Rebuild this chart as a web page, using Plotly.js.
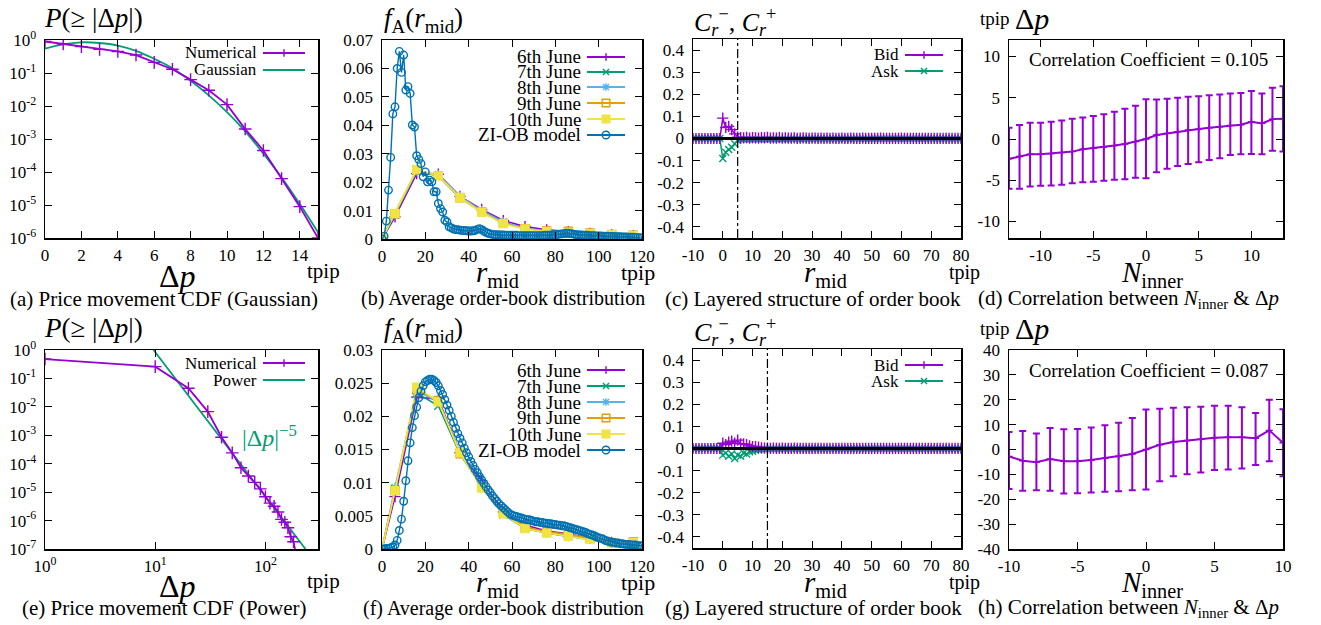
<!DOCTYPE html>
<html><head><meta charset="utf-8">
<script src="https://cdn.plot.ly/plotly-3.0.1.min.js"></script>
<style>html,body{margin:0;padding:0;background:#fff;}#chart{width:1321px;height:625px;}</style>
</head><body><div id="chart"></div>
<script>
// ================= DATA =================
// (a) price movement CDF vs Gaussian
const gaussDp = [0,1,2,3,4,5,6,7,8,9,10,11,12,13,14,15];
const gaussNumerical = [0.9,0.76,0.63,0.52,0.45,0.35,0.21,0.13,0.063,0.03,0.011,0.002,4.5e-4,6.3e-5,8.9e-6,1.0e-6];
const gaussFit = [0.55,0.74,0.85,0.81,0.68,0.47,0.27,0.14,0.058,0.021,0.0065,0.0017,3.6e-4,6.8e-5,1.07e-5,1.5e-6];
// (e) price movement CDF vs power law
const powDp = [1,10,20,30,40,50,60,70,80,90,100,110,120,130,140,150,160,170,180,190];
const powNumerical = [0.48,0.26,0.045,0.0068,8.5e-4,2.4e-4,7.2e-5,3.7e-5,2.2e-5,1.3e-5,6.9e-6,4.1e-6,3.2e-6,2.0e-6,1.1e-6,8.7e-7,5.6e-7,2.7e-7,1.8e-7,6e-8];
const powLawDp = [9.66,50,231];
const powLawP = [1.0,2.4e-4,1.0e-7];
// (b),(f) average order-book distribution
const dayNames = ['6th June','7th June','8th June','9th June','10th June'];
const obR = [0,6,16,26,36,46,56,66,76,86,96,106,116];
const obTop = [
  [0,0.0078,0.0230,0.0228,0.0150,0.0104,0.0065,0.0044,0.0032,0.0026,0.0020,0.0015,0.0012],
  [0,0.0085,0.0238,0.0222,0.0145,0.0097,0.0057,0.0037,0.0027,0.0023,0.0018,0.0014,0.0011],
  [0,0.0088,0.0240,0.0226,0.0150,0.0100,0.0060,0.0038,0.0028,0.0024,0.0019,0.0014,0.0011],
  [0,0.0089,0.0243,0.0223,0.0145,0.0095,0.0055,0.0036,0.0028,0.0027,0.0021,0.0016,0.0013],
  [0,0.0090,0.0244,0.0222,0.0146,0.0094,0.0054,0.0035,0.0026,0.0023,0.0019,0.0015,0.0012]
];
const obBottom = [
  [0,0.0079,0.0229,0.0226,0.0145,0.0103,0.0056,0.0036,0.0027,0.0023,0.0016,0.0010,0.0008],
  [0,0.0090,0.0235,0.0216,0.0143,0.0095,0.0052,0.0031,0.0024,0.0019,0.0015,0.0009,0.0008],
  [0,0.0093,0.0238,0.0222,0.0146,0.0097,0.0054,0.0032,0.0024,0.0019,0.0015,0.0009,0.0008],
  [0,0.0088,0.0240,0.0224,0.0144,0.0093,0.0055,0.0033,0.0026,0.0022,0.0016,0.0010,0.0011],
  [0,0.0088,0.0244,0.0222,0.0145,0.0092,0.0053,0.0031,0.0024,0.0019,0.0015,0.0009,0.0010]
];
const ziR = [0,1,2,3,4,5,6,7,8,9,10,11,12,13,14,15,16,17,18,19,20,21,22,23,24,25,26,27,28,29,30,31,32,33,34,35,36,37,38,39,40,41,42,43,44,45,46,47,48,49,50,51,52,53,54,55,56,57,58,59,60,61,62,63,64,65,66,67,68,69,70,71,72,73,74,75,76,77,78,79,80,81,82,83,84,85,86,87,88,89,90,91,92,93,94,95,96,97,98,99,100,101,102,103,104,105,106,107,108,109,110,111,112,113,114,115,116,117,118,119,120];
const ziTop = [0,0.001,0.0063,0.0172,0.0287,0.044,0.0465,0.060,0.066,0.0586,
  0.0647,0.0524,0.0536,0.0512,0.0401,0.0394,0.0293,0.028,0.0265,0.0219,
  0.0236,0.0201,0.0207,0.0201,0.0166,0.0166,0.0125,0.0107,0.0095,0.0066,
  0.006,0.0043,0.0039,0.0035,0.0033,0.0033,0.0031,0.003,0.003,0.0029,
  0.0028,0.0028,0.0029,0.003,0.0034,0.0036,0.0033,0.0028,0.0023,0.002,
  0.0018,0.0016,0.0015,0.0015,0.0014,0.0014,0.0014,0.0013,0.0013,0.0013,
  0.0013,0.0013,0.0013,0.0012,0.0012,0.0012,0.0012,0.0012,0.0012,0.0012,
  0.0012,0.0012,0.0012,0.0012,0.0012,0.0013,0.0013,0.0013,0.0014,0.0014,
  0.0015,0.0016,0.0017,0.0018,0.0019,0.002,0.002,0.0019,0.0018,0.0016,
  0.0015,0.0014,0.0014,0.0013,0.0013,0.0013,0.0012,0.0012,0.0012,0.0011,
  0.0011,0.0011,0.001,0.001,0.001,0.0009,0.0009,0.0009,0.0008,0.0008,
  0.0008,0.0007,0.0007,0.0007,0.0006,0.0006,0.0006,0.0005,0.0005,0.0005,
  0.0004];
const ziBottom = [0,0,0.0001,0.0001,0.0002,0.0003,0.0006,0.0013,0.0028,0.0045,
  0.0072,0.0103,0.0133,0.016,0.0183,0.0201,0.0214,0.0228,0.0238,0.0246,
  0.0252,0.0254,0.0256,0.0256,0.0254,0.0251,0.0246,0.0239,0.0233,0.0225,
  0.0217,0.0209,0.02,0.0191,0.0182,0.0174,0.0167,0.016,0.0152,0.0145,
  0.0139,0.0132,0.0126,0.012,0.0115,0.0109,0.0104,0.0099,0.0094,0.0089,
  0.0085,0.008,0.0076,0.0072,0.0068,0.0065,0.0062,0.0059,0.0056,0.0053,
  0.0051,0.005,0.0049,0.0048,0.0047,0.0046,0.0045,0.0044,0.0044,0.0043,
  0.0042,0.0041,0.0041,0.004,0.004,0.0039,0.0039,0.0038,0.0038,0.0037,
  0.0037,0.0036,0.0036,0.0035,0.0035,0.0034,0.0033,0.0032,0.0031,0.003,
  0.0029,0.0028,0.0027,0.0026,0.0025,0.0023,0.0022,0.0021,0.002,0.0018,
  0.0017,0.0016,0.0015,0.0013,0.0012,0.0011,0.001,0.001,0.0009,0.0009,
  0.0008,0.0008,0.0007,0.0007,0.0007,0.0006,0.0006,0.0006,0.0005,0.0005,
  0.0005];
// (c),(g) layered structure of order book
const layerR = [-10,-9,-8,-7,-6,-5,-4,-3,-2,-1,0,1,2,3,4,5,6,7,8,9,10,11,12,13,14,15,16,17,18,19,20,21,22,23,24,25,26,27,28,29,30,31,32,33,34,35,36,37,38,39,40,41,42,43,44,45,46,47,48,49,50,51,52,53,54,55,56,57,58,59,60,61,62,63,64,65,66,67,68,69,70,71,72,73,74,75,76,77,78,79,80];
const bidTop = [0,0,0,0,0,0,0,0,0,0,
  0.092,0.050,0.055,0.040,0.021,0.006,
  0.004,0.003,0.005,0.002,0.004,0.003,0.002,0.004,0.003,0.005,0.002,0.003,0.002,0.004,0.002,
  0.003,0.002,0.002,0.003,0.001,0.002,0.003,0.002,0.001,0.002,0.002,0.001,0.002,0.001,0.002,
  0.001,0.002,0.001,0.001,0.002,0.001,0.001,0.002,0.001,0.001,0.001,0.002,0.001,0.001,0.001,
  0.001,0.001,0.002,0.001,0.001,0.001,0.001,0.001,0.001,0.002,0.001,0.001,0.001,0.001,0.001,
  0.001,0.001,0.001,0.001,0.001,0.001,0.001,0.001,0.001,0.001,0.001,0.001,0.001,0.001,0.001];
const askTop = [0,0,0,0,0,0,0,0,0,0,
  -0.090,-0.062,-0.050,-0.040,-0.024,-0.009,
  -0.003,-0.004,-0.002,-0.005,-0.003,-0.002,-0.004,-0.003,-0.002,-0.004,-0.003,-0.002,-0.003,-0.002,-0.003,
  -0.002,-0.003,-0.002,-0.001,-0.002,-0.002,-0.003,-0.001,-0.002,-0.002,-0.001,-0.002,-0.001,-0.002,-0.001,
  -0.002,-0.001,-0.001,-0.002,-0.001,-0.001,-0.001,-0.002,-0.001,-0.001,-0.001,-0.001,-0.002,-0.001,-0.001,
  -0.001,-0.001,-0.001,-0.001,-0.001,-0.001,-0.001,-0.001,-0.001,-0.001,-0.001,-0.001,-0.001,-0.001,-0.001,
  -0.001,-0.001,-0.001,-0.001,-0.001,-0.001,-0.001,-0.001,-0.001,-0.001,-0.001,-0.001,-0.001,-0.001,-0.001];
const bidBottom = [0,0,0,0,0,0,0,0,0,0,
  0.024,0.018,0.029,0.033,0.024,0.038,0.021,0.021,0.018,0.012,0.009,0.009,0.006,0.003,0.002,
  0.002,0.001,0.002,0.001,0.001,0.002,0.001,0.001,0.001,0.002,0.001,0.001,0.001,0.001,0.001,
  0.001,0.001,0.001,0.001,0.001,0.001,0.001,0.001,0.001,0.001,0.001,0.001,0.001,0.001,0.001,0.001,0.001,
  0.001,0.001,0.001,0.001,0.001,0.001,0.001,0.001,0.001,0.001,0.001,0.001,0.001,0.001,0.001,0.001,0.001,
  0.001,0.001,0.001,0.001,0.001,0.001,0.001,0.001,0.001,0.001,0.001,0.001,0.001,0.001,0.001,0.001,0.001];
const askBottom = [0,0,0,0,0,0,0,0,0,0,
  -0.030,-0.020,-0.035,-0.025,-0.045,-0.030,-0.035,-0.020,-0.025,-0.015,-0.012,-0.008,-0.006,-0.004,-0.002,
  -0.002,-0.001,-0.002,-0.001,-0.002,-0.001,-0.001,-0.002,-0.001,-0.001,-0.001,-0.002,-0.001,-0.001,-0.001,
  -0.001,-0.001,-0.001,-0.001,-0.001,-0.001,-0.001,-0.001,-0.001,-0.001,-0.001,-0.001,-0.001,-0.001,-0.001,-0.001,-0.001,
  -0.001,-0.001,-0.001,-0.001,-0.001,-0.001,-0.001,-0.001,-0.001,-0.001,-0.001,-0.001,-0.001,-0.001,-0.001,-0.001,-0.001,
  -0.001,-0.001,-0.001,-0.001,-0.001,-0.001,-0.001,-0.001,-0.001,-0.001,-0.001,-0.001,-0.001,-0.001,-0.001,-0.001,-0.001];
const layerEdgeTop = 5;
const layerEdgeBottom = 15;
// (d),(h) correlation between N_inner and price change
const nInnerTop = [-13,-12,-11,-10,-9,-8,-7,-6,-5,-4,-3,-2,-1,0,1,2,3,4,5,6,7,8,9,10,11,12,13];
const dpMeanTop = [-2.41,-2.13,-1.85,-1.85,-1.77,-1.65,-1.53,-1.25,-1.13,-0.97,-0.80,-0.60,-0.32,0.0,0.48,0.68,0.89,1.09,1.20,1.37,1.49,1.65,1.73,2.10,1.89,2.41,2.45];
const dpUpperTop = [1.37,1.70,1.97,1.97,2.10,2.25,2.45,2.60,2.80,3.00,3.30,3.66,4.02,4.83,4.79,4.87,4.99,5.11,5.19,5.31,5.39,5.51,5.59,5.83,5.51,6.20,6.40];
const dpLowerTop = [-6.04,-6.04,-5.75,-5.67,-5.63,-5.55,-5.35,-5.23,-5.19,-5.07,-4.95,-4.87,-4.70,-4.75,-4.02,-3.62,-3.26,-3.02,-2.82,-2.54,-2.33,-1.93,-1.85,-1.81,-1.85,-1.41,-1.53];
const nInnerBottom = [-10,-9,-8,-7,-6,-5,-4,-3,-2,-1,0,1,2,3,4,5,6,7,8,9,10];
const dpMeanBottom = [-2.8,-4.5,-5.1,-3.8,-4.7,-4.7,-4.2,-3.5,-2.8,-1.8,0,1.9,3.0,3.6,4.1,4.7,4.9,4.9,4.5,7.7,2.7];
const dpUpperBottom = [7.0,7.4,6.4,8.6,8.1,8.2,8.8,9.7,10.8,12.7,16.1,16.4,16.8,17.0,17.2,17.6,17.6,17.0,14.7,20.0,16.2];
const dpLowerBottom = [-15.9,-16.6,-16.4,-16.6,-17.7,-17.6,-17.3,-17.0,-16.8,-16.4,-16.1,-12.8,-10.8,-9.9,-9.2,-8.2,-8.0,-7.6,-6.2,-4.7,-10.8];
const corrTop = '0.105';
const corrBottom = '0.087';

// ================= STYLE / LAYOUT =================
const W = 1321, H = 625;
const serif = 'Liberation Serif, DejaVu Serif, serif';
const C = {purple:'#9400D3', green:'#009E73', lblue:'#56B4E9', orange:'#E69F00', yellow:'#F0E442', blue:'#0072B2'};
const dayColors = [C.purple, C.green, C.lblue, C.orange, C.yellow];
const daySymbols = ['cross-thin','x-thin','asterisk','square-open','square'];
const fx = p => p / W, fy = p => 1 - p / H;

const boxes = [
  [45,318,40,238],[382,642,40,239],[693,961,39,238],[1009,1283,40,238],
  [45,318,350,549],[382,642,350,549],[693,961,349,548],[1009,1283,350,549]
];
const layout = {
  width: W, height: H, autosize: false,
  margin: {l:0, r:0, t:0, b:0},
  paper_bgcolor: '#fff', plot_bgcolor: '#fff',
  showlegend: false,
  font: {family: serif, size: 17, color: '#000'},
  annotations: [], shapes: []
};
function common() {
  return {showline:true, linecolor:'#000', linewidth:1.5, mirror:'allticks', ticks:'inside',
    ticklen:7, tickwidth:1, tickcolor:'#000', showgrid:false, zeroline:false,
    tickfont:{family:serif, size:17, color:'#000'}, tickmode:'array', fixedrange:true};
}
function setAxes(i, xo, yo) {
  const b = boxes[i-1];
  const s = i === 1 ? '' : String(i);
  layout['xaxis'+s] = Object.assign(common(), {domain:[fx(b[0]), fx(b[1])], anchor:'y'+s, ticklabelstandoff:1}, xo);
  layout['yaxis'+s] = Object.assign(common(), {domain:[fy(b[3]), fy(b[2])], anchor:'x'+s, ticklabelstandoff:4}, yo);
}
const pow10 = (lo, hi) => { const v=[], t=[]; for (let e=lo; e<=hi; e++) { v.push(Math.pow(10,e)); t.push('10<sup>'+e+'</sup>'); } return {tickvals:v, ticktext:t}; };
const lin = (vals, txt) => ({tickvals: vals, ticktext: txt || vals.map(String)});

setAxes(1, Object.assign({range:[0,15]}, lin([0,2,4,6,8,10,12,14])), Object.assign({type:'log', range:[-6,0]}, pow10(-6,0)));
setAxes(2, Object.assign({range:[0,120]}, lin([0,20,40,60,80,100,120])), Object.assign({range:[0,0.07]}, lin([0,0.01,0.02,0.03,0.04,0.05,0.06,0.07])));
const layerY = Object.assign({range:[-0.45,0.45], zeroline:true, zerolinecolor:'#000', zerolinewidth:2.5, zerolinelayer:'above traces'},
  lin([-0.4,-0.3,-0.2,-0.1,0,0.1,0.2,0.3,0.4], ['-0.4','-0.3','-0.2','-0.1','0','0.1','0.2','0.3','0.4']));
const layerX = Object.assign({range:[-10,80]}, lin([-10,0,10,20,30,40,50,60,70,80]));
setAxes(3, layerX, layerY);
setAxes(4, Object.assign({range:[-13,13]}, lin([-10,-5,0,5,10])), Object.assign({range:[-12,12]}, lin([-10,-5,0,5,10])));
setAxes(5, Object.assign({type:'log', range:[0, Math.log10(300)]}, pow10(0,2)), Object.assign({type:'log', range:[-7,0]}, pow10(-7,0)));
setAxes(6, Object.assign({range:[0,120]}, lin([0,20,40,60,80,100,120])), Object.assign({range:[0,0.03]}, lin([0,0.005,0.01,0.015,0.02,0.025,0.03])));
setAxes(7, JSON.parse(JSON.stringify(layerX)), JSON.parse(JSON.stringify(layerY)));
setAxes(8, Object.assign({range:[-10,10]}, lin([-10,-5,0,5,10])), Object.assign({range:[-40,40]}, lin([-40,-30,-20,-10,0,10,20,30,40])));

// ================= TRACES =================
const traces = [];
const ax = i => i === 1 ? {xaxis:'x', yaxis:'y'} : {xaxis:'x'+i, yaxis:'y'+i};
const mk = (sym, color, size) => ({symbol:sym, size:size, color:color, line:{color:color, width:1.4}});

traces.push(Object.assign({type:'scatter', mode:'lines', name:'Gaussian', x:gaussDp, y:gaussFit, line:{color:C.green, width:1.8, shape:'spline'}}, ax(1)));
traces.push(Object.assign({type:'scatter', mode:'lines+markers', name:'Numerical', x:gaussDp, y:gaussNumerical, line:{color:C.purple, width:1.8}, marker:mk('cross-thin', C.purple, 9)}, ax(1)));
traces.push(Object.assign({type:'scatter', mode:'lines', name:'Power', x:powLawDp, y:powLawP, line:{color:C.green, width:1.8}}, ax(5)));
traces.push(Object.assign({type:'scatter', mode:'lines+markers', name:'Numerical', x:powDp, y:powNumerical, line:{color:C.purple, width:1.8}, marker:mk('cross-thin', C.purple, 9)}, ax(5)));
[[2, obTop, ziTop],[6, obBottom, ziBottom]].forEach(([i, ob, zi]) => {
  ob.forEach((ys, k) => {
    traces.push(Object.assign({type:'scatter', mode:'lines+markers', name:dayNames[k], x:obR, y:ys,
      line:{color:dayColors[k], width:1.6}, marker:mk(daySymbols[k], dayColors[k], 8)}, ax(i)));
  });
  traces.push(Object.assign({type:'scatter', mode:'lines+markers', name:'ZI-OB model', x:ziR, y:zi,
    line:{color:C.blue, width:1.4}, marker:{symbol:'circle-open', size:7.5, color:C.blue, line:{color:C.blue, width:1.4}}}, ax(i)));
});
[[3, bidTop, askTop],[7, bidBottom, askBottom]].forEach(([i, bid, ask]) => {
  traces.push(Object.assign({type:'scatter', mode:'lines+markers', name:'Ask', x:layerR, y:ask,
    line:{color:C.green, width:1.5}, marker:mk('x-thin', C.green, 7)}, ax(i)));
  traces.push(Object.assign({type:'scatter', mode:'lines+markers', name:'Bid', x:layerR, y:bid,
    line:{color:C.purple, width:1.5}, marker:mk('cross-thin', C.purple, 8)}, ax(i)));
});
[[4, nInnerTop, dpMeanTop, dpUpperTop, dpLowerTop],[8, nInnerBottom, dpMeanBottom, dpUpperBottom, dpLowerBottom]].forEach(([i, xs, m, up, lo]) => {
  traces.push(Object.assign({type:'scatter', mode:'lines+markers', name:'mean', x:xs, y:m,
    line:{color:C.purple, width:2}, marker:mk('cross-thin', C.purple, 5),
    error_y:{type:'data', symmetric:false, array:up.map((u,k)=>u-m[k]), arrayminus:lo.map((l,k)=>m[k]-l), color:C.purple, thickness:2, width:3.5}}, ax(i)));
});

// ================= ANNOTATIONS / LEGENDS =================
function ann(text, x, y, size, extra) {
  layout.annotations.push(Object.assign({xref:'paper', yref:'paper', x:fx(x), y:fy(y), text:text, showarrow:false,
    xanchor:'left', yanchor:'middle', font:{family:serif, size:size, color:'#000'}}, extra || {}));
}
function pathPx(cmds) { return cmds.map(c => c[0] + fx(c[1]).toFixed(6) + ',' + fy(c[2]).toFixed(6)).join(' '); }
function legendItem(textRight, y, label, color, sym, x0, x1, size) {
  ann(label, textRight, y, size, {xanchor:'right'});
  layout.shapes.push({type:'line', xref:'paper', yref:'paper', x0:fx(x0), x1:fx(x1), y0:fy(y), y1:fy(y), line:{color:color, width:1.8}});
  if (!sym) return;
  const cx = (x0 + x1) / 2, r = 3.8;
  const plus = [['M',cx-r,y],['L',cx+r,y],['M',cx,y-r],['L',cx,y+r]];
  const cross = [['M',cx-r*0.8,y-r*0.8],['L',cx+r*0.8,y+r*0.8],['M',cx-r*0.8,y+r*0.8],['L',cx+r*0.8,y-r*0.8]];
  const ln = {color:color, width:1.4};
  if (sym === 'plus') layout.shapes.push({type:'path', xref:'paper', yref:'paper', path:pathPx(plus), line:ln});
  if (sym === 'x') layout.shapes.push({type:'path', xref:'paper', yref:'paper', path:pathPx(cross), line:ln});
  if (sym === 'star') layout.shapes.push({type:'path', xref:'paper', yref:'paper', path:pathPx(plus.concat(cross)), line:ln});
  if (sym === 'sqo' || sym === 'sq') layout.shapes.push({type:'rect', xref:'paper', yref:'paper', x0:fx(cx-r), x1:fx(cx+r), y0:fy(y+r), y1:fy(y-r), line:ln, fillcolor: sym === 'sq' ? color : 'rgba(0,0,0,0)'});
  if (sym === 'circ') layout.shapes.push({type:'circle', xref:'paper', yref:'paper', x0:fx(cx-r), x1:fx(cx+r), y0:fy(y+r), y1:fy(y-r), line:ln});
}
const legSyms = ['plus','x','star','sqo','sq'];
[0, 310].forEach((off, row) => {
  legendItem(259, 53+off, 'Numerical', C.purple, 'plus', 263, 305, 17);
  legendItem(259, 70+off, row === 0 ? 'Gaussian' : 'Power', C.green, null, 263, 305, 17);
  const ys = row === 0 ? [57,72,87,103,119,135] : [370,386,402,418,434,450];
  dayNames.forEach((d, k) => legendItem(583, ys[k], d, dayColors[k], legSyms[k], 587, 625, 19));
  legendItem(583, ys[5], 'ZI-OB model', C.blue, 'circ', 587, 625, 19);
  legendItem(901, 55+off, 'Bid', C.purple, 'plus', 905, 943, 17);
  legendItem(901, 71+off, 'Ask', C.green, 'x', 905, 943, 17);

  ann('<i>P</i>(≥ |Δ<i>p</i>|)', 42, 18+off, 27);
  ann('<i>f</i><sub>A</sub>(<i>r</i><sub>mid</sub>)', 382, 20+off, 27);
  ann('<i>C</i><sub><i>r</i></sub><sup>−</sup>, <i>C</i><sub><i>r</i></sub><sup>+</sup>', 692, 22+off, 26);
  ann('tpip', 978, 18+off, 19);
  ann('Δ<i>p</i>', 1013, 18+off, 30);
  ann('Δ<i>p</i>', 177, 276+off, 32, {xanchor:'center'});
  ann('<i>r</i><sub>mid</sub>', 498, 274+off, 29, {xanchor:'center'});
  ann('<i>r</i><sub>mid</sub>', 825, 274+off, 29, {xanchor:'center'});
  ann('<i>N</i><sub>inner</sub>', 1152, 274+off, 29, {xanchor:'center'});
  ann('tpip', 305, 271+off, 21);
  ann('tpip', 619, 272+off, 22);
  ann('tpip', 947, 272+off, 20);
  ann('Correlation Coefficient = ' + (row === 0 ? corrTop : corrBottom), 1148, 60+off, 19, {xanchor:'center'});
});
ann('|Δ<i>p</i>|<sup>−5</sup>', 240, 436, 24, {font:{family:serif, size:24, color:C.green}});
const caps = [
  ['(a) Price movement CDF (Gaussian)', 164, 299, 21], ['(b) Average order-book distribution', 503, 299, 20],
  ['(c) Layered structure of order book', 813, 299, 21], ['(d) Correlation between <i>N</i><sub>inner</sub> &amp; Δ<i>p</i>', 1128, 299, 21],
  ['(e) Price movement CDF (Power)', 164, 608, 21], ['(f) Average order-book distribution', 503, 608, 20],
  ['(g) Layered structure of order book', 813, 608, 21], ['(h) Correlation between <i>N</i><sub>inner</sub> &amp; Δ<i>p</i>', 1128, 608, 21]
];
caps.forEach(c => ann(c[0], c[1], c[2], c[3], {xanchor:'center'}));
[[3, layerEdgeTop],[7, layerEdgeBottom]].forEach(([i, xv]) => {
  layout.shapes.push({type:'line', xref:'x'+i, yref:'y'+i+' domain', x0:xv, x1:xv, y0:0, y1:1, line:{color:'#000', width:1.2, dash:'dashdot'}});
});

Plotly.newPlot('chart', traces, layout, {staticPlot:true, displayModeBar:false});
</script>
</body></html>
